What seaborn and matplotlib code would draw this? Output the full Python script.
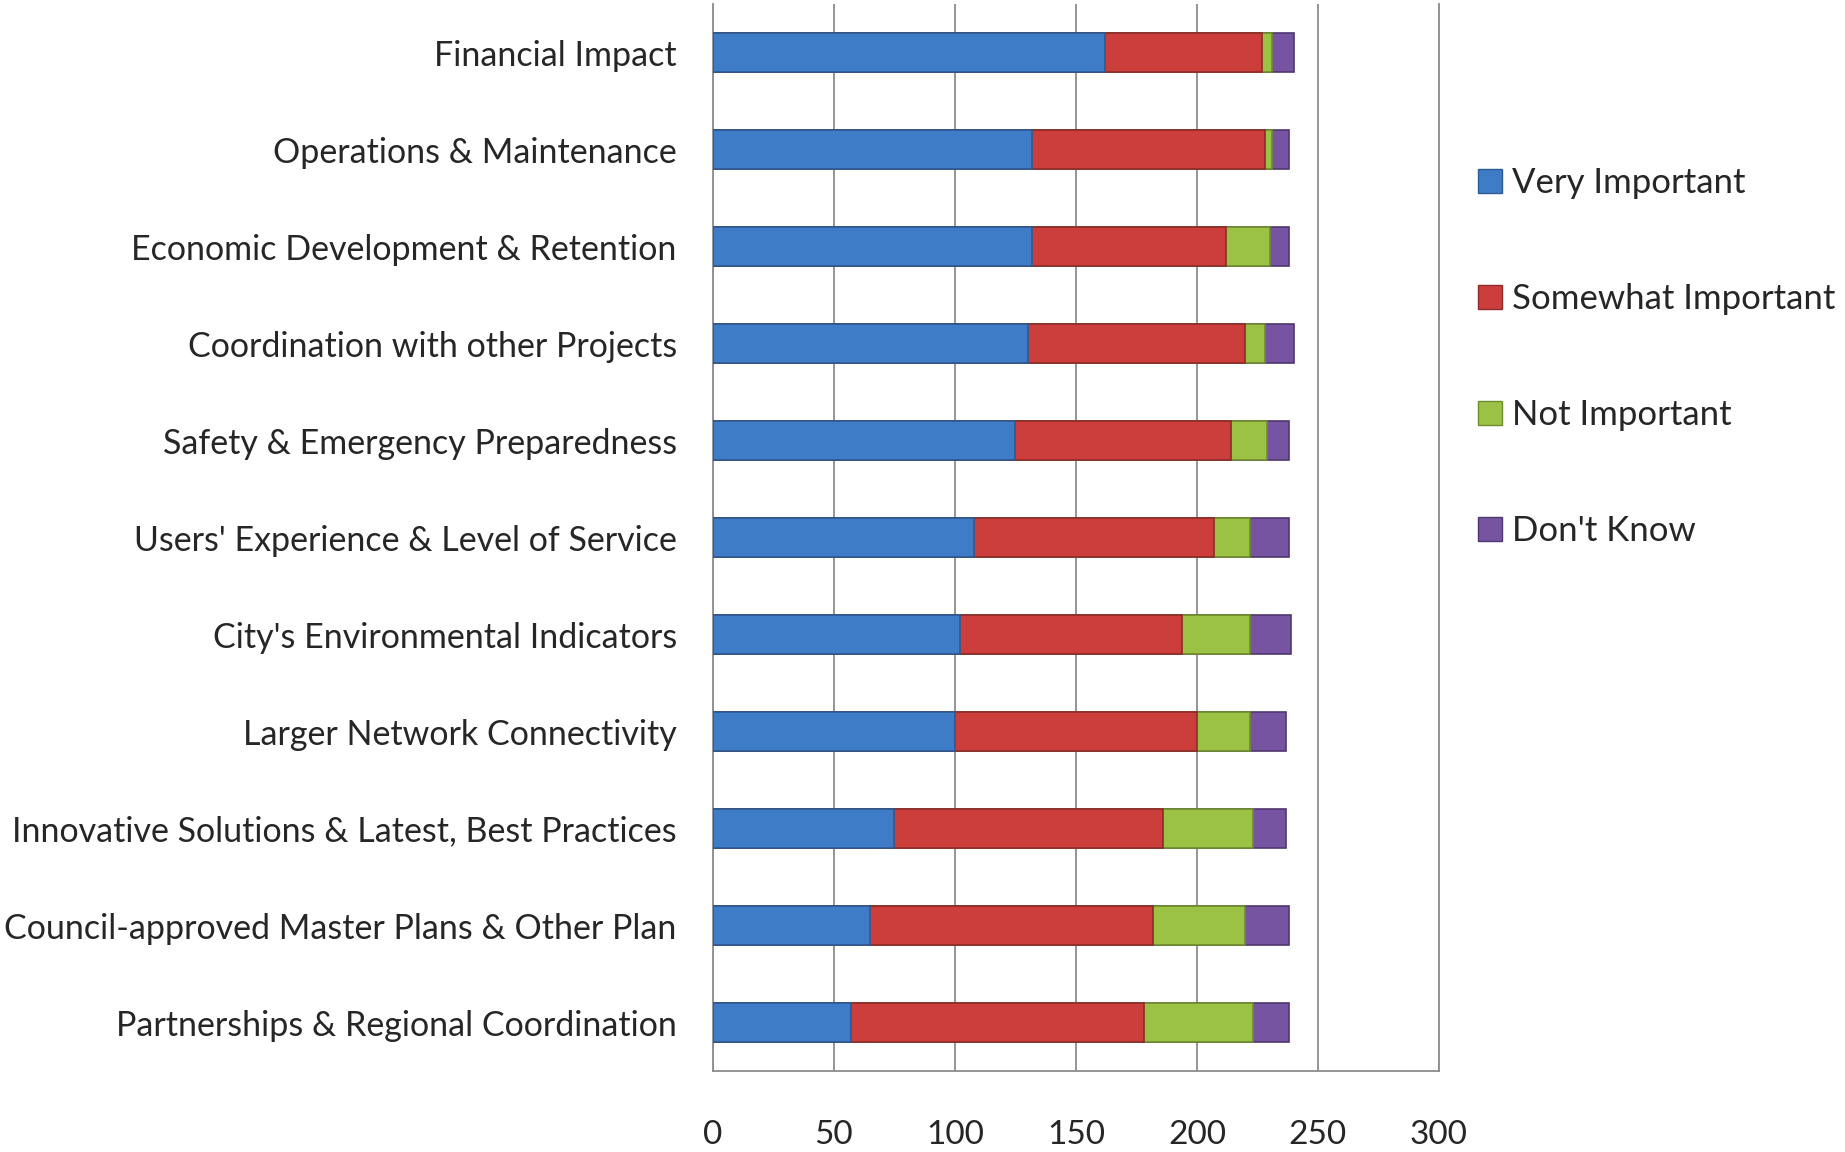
import numpy as np
import pandas as pd
import matplotlib
matplotlib.use("Agg")
import matplotlib.pyplot as plt
import seaborn as sns
from matplotlib.patches import Patch

# --- data ---
categories = [
    "Financial Impact",
    "Operations & Maintenance",
    "Economic Development & Retention",
    "Coordination with other Projects",
    "Safety & Emergency Preparedness",
    "Users' Experience & Level of Service",
    "City's Environmental Indicators",
    "Larger Network Connectivity",
    "Innovative Solutions & Latest, Best Practices",
    "Council-approved Master Plans & Other Plan",
    "Partnerships & Regional Coordination",
]
very_important = [162, 132, 132, 130, 125, 108, 102, 100, 75, 65, 57]
somewhat_important = [65, 96, 80, 90, 89, 99, 92, 100, 111, 117, 121]
not_important = [4, 3, 18, 8, 15, 15, 28, 22, 37, 38, 45]
dont_know = [9, 7, 8, 12, 9, 16, 17, 15, 14, 18, 15]

series_names = ["Very Important", "Somewhat Important", "Not Important", "Don't Know"]
colors = ["#3E7CC8", "#CB3E3C", "#9CC245", "#7654A2"]
edge_colors = ["#2B5A94", "#8E2A29", "#6E8C2E", "#4F376F"]

xticks = [0, 50, 100, 150, 200, 250, 300]

# --- build table with cumulative sums for stacking ---
df = pd.DataFrame({
    "category": categories,
    "Very Important": very_important,
    "Somewhat Important": somewhat_important,
    "Not Important": not_important,
    "Don't Know": dont_know,
})
cum = df[series_names].cumsum(axis=1)

sns.set_style("white")
plt.rcParams["font.family"] = ["Lato", "DejaVu Sans"]

fig = plt.figure(figsize=(18.45, 11.52), dpi=100)
ax = fig.add_axes([0.3864, 0.0703, 0.3935, 0.9262])

# draw from the total down so each shorter bar sits on top
for name, col, ec in reversed(list(zip(series_names, colors, edge_colors))):
    sns.barplot(x=cum[name], y=df["category"], orient="h", color=col,
                width=0.4, edgecolor=ec, linewidth=1.2, saturation=1,
                ax=ax, zorder=3)

ax.set_xlim(0, 300)
ax.set_xticks(xticks)
ax.set_xticklabels([str(t) for t in xticks], fontsize=24)
ax.tick_params(axis="x", length=0, pad=35.5)
ax.tick_params(axis="y", length=0, pad=26, labelsize=24.5)
ax.set_xlabel("")
ax.set_ylabel("")

ax.grid(axis="x", color="#8C8C8C", linewidth=1.3, zorder=0)
ax.grid(axis="y", visible=False)
ax.set_axisbelow(True)
for side in ["left", "bottom", "right"]:
    ax.spines[side].set_visible(True)
    ax.spines[side].set_color("#8C8C8C")
    ax.spines[side].set_linewidth(1.3)
ax.spines["top"].set_visible(False)

handles = [Patch(facecolor=c, edgecolor=e, linewidth=1.0) for c, e in zip(colors, edge_colors)]
fig.legend(handles, series_names, loc="upper left", bbox_to_anchor=(0.7918, 0.870),
           frameon=False, fontsize=25, handlelength=0.68, handleheight=0.68,
           handletextpad=0.3, labelspacing=2.42, borderpad=0)

fig.savefig("out.png", dpi=100)
